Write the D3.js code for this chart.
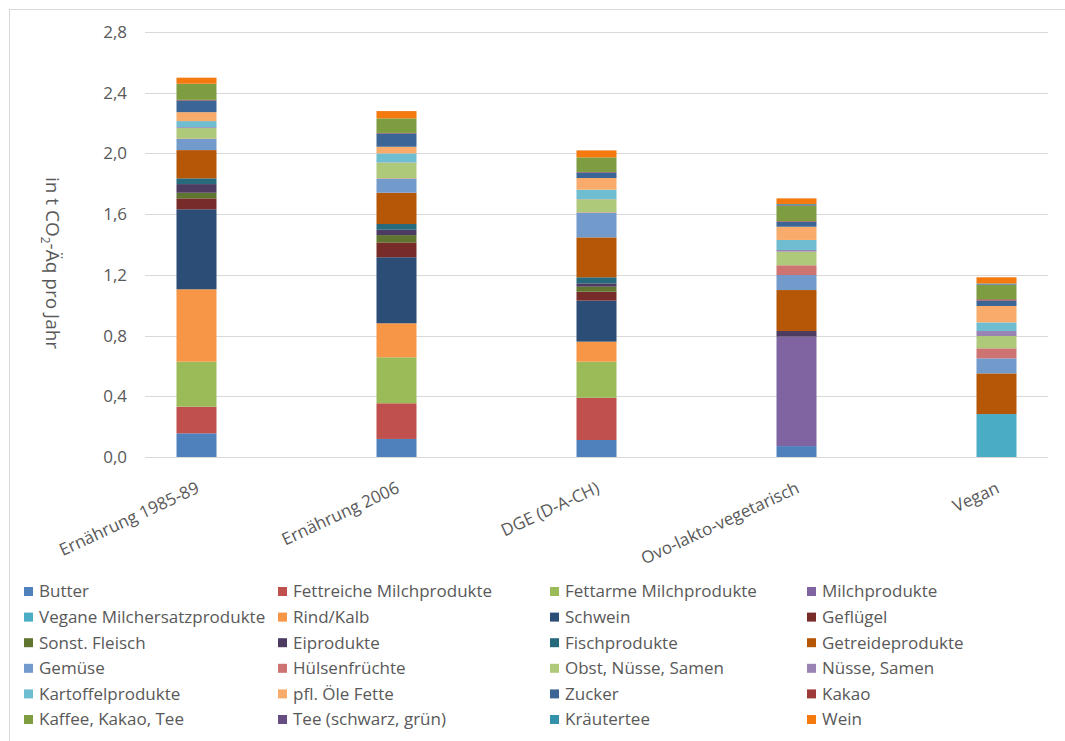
<!DOCTYPE html>
<html>
<head>
<meta charset="utf-8">
<script src="https://cdn.jsdelivr.net/npm/d3@7"></script>
<style>
  body { margin: 0; background: #fff; }
  text { font-family: "Open Sans", "Noto Sans", sans-serif; fill: #595959; }
</style>
</head>
<body>
<div id="chart"></div>
<script>
// Kategorien (Ernährungsweisen)
let categories = ['Ernährung 1985-89', 'Ernährung 2006', 'DGE (D-A-CH)', 'Ovo-lakto-vegetarisch', 'Vegan']

// Lebensmittelgruppen, in Stapelreihenfolge (unten -> oben)
let groups = ['Butter', 'Fettreiche Milchprodukte', 'Fettarme Milchprodukte', 'Milchprodukte',
  'Vegane Milchersatzprodukte', 'Rind/Kalb', 'Schwein', 'Geflügel',
  'Sonst. Fleisch', 'Eiprodukte', 'Fischprodukte', 'Getreideprodukte',
  'Gemüse', 'Hülsenfrüchte', 'Obst, Nüsse, Samen', 'Nüsse, Samen',
  'Kartoffelprodukte', 'pfl. Öle Fette', 'Zucker', 'Kakao',
  'Kaffee, Kakao, Tee', 'Tee (schwarz, grün)', 'Kräutertee', 'Wein']

let colors = ['#4F81BD', '#C0504D', '#9BBB59', '#8064A2',
  '#4BACC6', '#F79646', '#2C4D75', '#772C2A',
  '#5F7530', '#4D3B62', '#276A7C', '#B65708',
  '#729ACA', '#CD7371', '#AFC97A', '#9983B5',
  '#6FBDD1', '#F9AB6B', '#3A6595', '#9E3B38',
  '#7E9C40', '#664E85', '#3491AA', '#F4790F']

// t CO2-Äq pro Jahr, je Gruppe (Reihenfolge wie groups)
let ern1985 = [.156, .175, .297, 0, 0, .477, .527, .072, .037, .057, .038, .186,
  .073, .003, .069, .006, .040, .059, .077, .004, .106, 0, 0, .040]
let ern2006 = [.119, .235, .303, 0, 0, .224, .435, .098, .048, .035, .038, .206,
  .092, .003, .103, .002, .059, .044, .088, .003, .096, 0, 0, .048]
let dge = [.112, .278, .238, 0, 0, .132, .270, .059, .033, .022, .040, .263,
  .162, .003, .086, .002, .061, .077, .037, .003, .096, 0, 0, .046]
let ovoLakto = [.072, 0, 0, .721, 0, 0, 0, 0, 0, .037, 0, .270,
  .099, .064, .090, .011, .066, .087, .033, .004, .102, .004, .006, .038]
let vegan = [0, 0, 0, 0, .283, 0, 0, 0, 0, 0, 0, .268,
  .099, .066, .081, .033, .057, .108, .036, .008, .094, .004, .006, .041]

let yTicks = [0, 0.4, 0.8, 1.2, 1.6, 2.0, 2.4, 2.8]

let allValues = [ern1985, ern2006, dge, ovoLakto, vegan]

let tableData = categories.map(function(c, i){
  let row = {cat: c}
  groups.forEach(function(g, j){ row[g] = allValues[i][j] })
  return row
})

let width = 1065, height = 741
let svg = d3.select('#chart').append('svg')
  .attr('width', width).attr('height', height)

// Rahmen
svg.append('rect')
  .attr('x', 9.5).attr('y', 9.5)
  .attr('width', 1100).attr('height', 800)
  .attr('fill', 'none').attr('stroke', '#D9D9D9')

let x = d3.scalePoint().domain(categories).range([145, 1048]).padding(0.2575)
let y = d3.scaleLinear().domain([0, 2.8]).range([457, 32])

// Gitterlinien
svg.append('g').selectAll('line')
  .data(yTicks)
  .enter()
  .append('line')
  .attr('x1', 145).attr('x2', 1048)
  .attr('y1', function(d){ return Math.round(y(d)) + 0.5 })
  .attr('y2', function(d){ return Math.round(y(d)) + 0.5 })
  .attr('stroke', '#D9D9D9')
  .attr('stroke-width', 1)

// y-Achse
let yAxis = svg.append('g')
  .attr('transform', 'translate(145,0)')
  .call(d3.axisLeft(y).tickValues(yTicks).tickSize(0).tickPadding(18)
    .tickFormat(function(d){ return d3.format('.1f')(d).replace('.', ',') }))
yAxis.select('.domain').remove()
yAxis.selectAll('text')
  .style('font-size', '17px')
  .style('font-family', '"Open Sans", "Noto Sans", sans-serif')
  .attr('fill', '#595959')

// Achsentitel
let yTitle = svg.append('text')
  .attr('transform', 'translate(46,263) rotate(90)')
  .attr('text-anchor', 'middle')
  .style('font-size', '19px')
yTitle.append('tspan').text('in t CO')
yTitle.append('tspan').text('2').style('font-size', '12px').attr('dy', 5)
yTitle.append('tspan').text('-Äq pro Jahr').attr('dy', -5)

// Stapel
let stack = d3.stack().keys(groups)
let series = stack(tableData)
let barW = 40

svg.append('g').selectAll('g')
  .data(series)
  .enter()
  .append('g')
  .attr('fill', function(d, i){ return colors[i] })
  .selectAll('rect')
  .data(function(d){ return d })
  .enter()
  .append('rect')
  .attr('x', function(d){ return x(d.data.cat) - barW / 2 })
  .attr('width', barW)
  .attr('y', function(d){ return y(d[1]) })
  .attr('height', function(d){ return Math.max(0, y(d[0]) - y(d[1])) })

// Kategorie-Beschriftungen
svg.append('g').selectAll('text')
  .data(categories)
  .enter()
  .append('text')
  .attr('transform', function(d){ return 'translate(' + (x(d) + 4) + ',492) rotate(-25)' })
  .attr('text-anchor', 'end')
  .style('font-size', '17px')
  .text(function(d){ return d })

// Legende
let legendCols = [24, 278, 550, 807]
let legend = svg.append('g').selectAll('g')
  .data(groups)
  .enter()
  .append('g')
  .attr('transform', function(d, i){
    return 'translate(' + legendCols[i % 4] + ',' + (591.5 + Math.floor(i / 4) * 25.6) + ')'
  })
legend.append('rect')
  .attr('x', 0).attr('y', -4.5)
  .attr('width', 9).attr('height', 9)
  .attr('fill', function(d, i){ return colors[i] })
legend.append('text')
  .attr('x', 15).attr('dy', '0.35em')
  .style('font-size', '17px')
  .text(function(d){ return d })
</script>
</body>
</html>
